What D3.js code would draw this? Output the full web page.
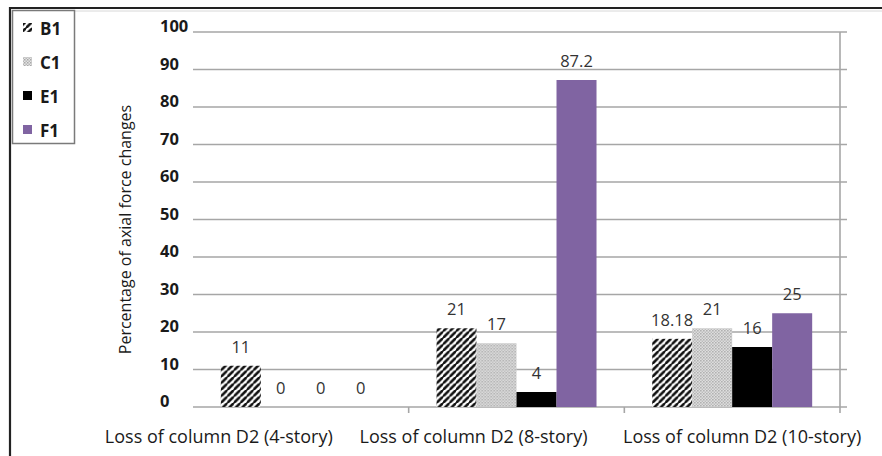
<!DOCTYPE html>
<html>
<head>
<meta charset="utf-8">
<script src="https://cdn.jsdelivr.net/npm/d3@7/dist/d3.min.js"></script>
<style>
  html, body { margin: 0; padding: 0; background: #fff; }
  svg { display: block; font-family: "Open Sans", "Noto Sans", sans-serif; }
</style>
</head>
<body>
<svg id="chart" width="882" height="456"></svg>
<script>
// ---- data ----
const categories = [
  "Loss of column D2 (4-story)",
  "Loss of column D2 (8-story)",
  "Loss of column D2 (10-story)"
];
const seriesNames = ["B1", "C1", "E1", "F1"];
const valuesB1 = [11, 21, 18.18];
const valuesC1 = [0, 17, 21];
const valuesE1 = [0, 4, 16];
const valuesF1 = [0, 87.2, 25];
const labelsB1 = ["11", "21", "18.18"];
const labelsC1 = ["0", "17", "21"];
const labelsE1 = ["0", "4", "16"];
const labelsF1 = ["0", "87.2", "25"];
const yTicks = [0, 10, 20, 30, 40, 50, 60, 70, 80, 90, 100];
const yTitle = "Percentage of axial force changes";

const seriesValues = [valuesB1, valuesC1, valuesE1, valuesF1];
const seriesLabels = [labelsB1, labelsC1, labelsE1, labelsF1];

// ---- layout ----
const W = 882, H = 456;
const plot = { left: 193, right: 840, top: 32, bottom: 407 };
const svg = d3.select("#chart");

// fills: hatch, fine checker, solid black, purple
const defs = svg.append("defs");
const hatch = defs.append("pattern")
  .attr("id", "hatch").attr("patternUnits", "userSpaceOnUse")
  .attr("width", 6.5).attr("height", 6.5);
hatch.append("rect").attr("width", 6.5).attr("height", 6.5).attr("fill", "#fff");
hatch.append("path")
  .attr("d", "M-1,7.5 L7.5,-1 M-4,3.25 L3.25,-4 M3.25,10.5 L10.5,3.25")
  .attr("stroke", "#111").attr("stroke-width", 2.6);

const dots = defs.append("pattern")
  .attr("id", "dots").attr("patternUnits", "userSpaceOnUse")
  .attr("width", 3).attr("height", 3);
dots.append("rect").attr("width", 3).attr("height", 3).attr("fill", "#e4e4e4");
dots.append("rect").attr("width", 1.5).attr("height", 1.5).attr("fill", "#a8a8a8");
dots.append("rect").attr("x", 1.5).attr("y", 1.5).attr("width", 1.5).attr("height", 1.5).attr("fill", "#b8b8b8");

const fills = ["url(#hatch)", "url(#dots)", "#000000", "#8064A2"];

// scales
const x0 = d3.scaleBand().domain(d3.range(categories.length))
  .range([plot.left, plot.right]).paddingInner(0.258).paddingOuter(0.129);
const x1 = d3.scaleBand().domain(d3.range(seriesNames.length))
  .range([0, x0.bandwidth()]);
const y = d3.scaleLinear().domain([0, 100]).range([plot.bottom, plot.top]);

// outer frame
svg.append("line").attr("x1", 10).attr("x2", W).attr("y1", 8).attr("y2", 8)
  .attr("stroke", "#222").attr("stroke-width", 2);
svg.append("line").attr("x1", 12).attr("x2", W).attr("y1", 11).attr("y2", 11)
  .attr("stroke", "#d8d8d8").attr("stroke-width", 1);
svg.append("line").attr("x1", 10).attr("x2", 10).attr("y1", 7).attr("y2", H)
  .attr("stroke", "#222").attr("stroke-width", 2.2);

// gridlines
svg.append("g").selectAll("line").data(yTicks).join("line")
  .attr("x1", plot.left).attr("x2", plot.right + 7)
  .attr("y1", d => y(d)).attr("y2", d => y(d))
  .attr("stroke", "#a6a6a6").attr("stroke-width", 1.6);

// right-side axis line
svg.append("line").attr("x1", plot.right).attr("x2", plot.right)
  .attr("y1", y(100)).attr("y2", plot.bottom + 6)
  .attr("stroke", "#a6a6a6").attr("stroke-width", 1.6);

// category separators on the baseline
svg.append("g").selectAll("line").data(d3.range(1, categories.length)).join("line")
  .attr("x1", i => x0(i) - x0.step() * x0.paddingInner() / 2)
  .attr("x2", i => x0(i) - x0.step() * x0.paddingInner() / 2)
  .attr("y1", plot.bottom).attr("y2", plot.bottom + 6)
  .attr("stroke", "#a6a6a6").attr("stroke-width", 1.6);

// y tick labels
svg.append("g").selectAll("text").data(yTicks).join("text")
  .attr("x", 160).attr("y", d => y(d))
  .attr("font-size", 16.5).attr("font-weight", 700).attr("fill", "#1a1a1a")
  .text(d => d);

// y title
svg.append("text")
  .attr("transform", `translate(131, ${(plot.top + plot.bottom) / 2 + 10}) rotate(-90)`)
  .attr("text-anchor", "middle").attr("font-size", 16).attr("fill", "#1a1a1a")
  .text(yTitle);

// bars
const groups = svg.append("g").selectAll("g").data(categories).join("g")
  .attr("transform", (d, i) => `translate(${x0(i)},0)`);
groups.each(function (cat, ci) {
  const g = d3.select(this);
  seriesNames.forEach((s, si) => {
    const v = seriesValues[si][ci];
    if (v > 0) {
      g.append("rect")
        .attr("x", x1(si)).attr("width", x1.bandwidth())
        .attr("y", y(v)).attr("height", y(0) - y(v))
        .attr("fill", fills[si]);
    }
    g.append("text")
      .attr("x", x1(si) + x1.bandwidth() / 2)
      .attr("y", y(v) - 13)
      .attr("text-anchor", "middle").attr("font-size", 16.5).attr("fill", "#333")
      .text(seriesLabels[si][ci]);
  });
});

// category labels
const catShift = [-82, -43, 10];
svg.append("g").selectAll("text").data(categories).join("text")
  .attr("x", (d, i) => x0(i) + x0.bandwidth() / 2 + catShift[i])
  .attr("y", 443)
  .attr("text-anchor", "middle").attr("font-size", 18).attr("fill", "#1a1a1a")
  .text(d => d);

// legend
const legend = svg.append("g");
legend.append("rect").attr("x", 12.5).attr("y", 10.5).attr("width", 62).attr("height", 133)
  .attr("fill", "#fff").attr("stroke", "#7a7a7a").attr("stroke-width", 1.5);
const items = legend.selectAll("g").data(seriesNames).join("g")
  .attr("transform", (d, i) => `translate(0, ${28 + i * 34})`);
items.append("rect").attr("x", 23).attr("y", -5).attr("width", 9).attr("height", 9)
  .attr("fill", (d, i) => fills[i]);
items.append("text").attr("x", 40).attr("y", 7)
  .attr("font-size", 17).attr("font-weight", 700).attr("fill", "#1a1a1a")
  .text(d => d);
</script>
</body>
</html>
